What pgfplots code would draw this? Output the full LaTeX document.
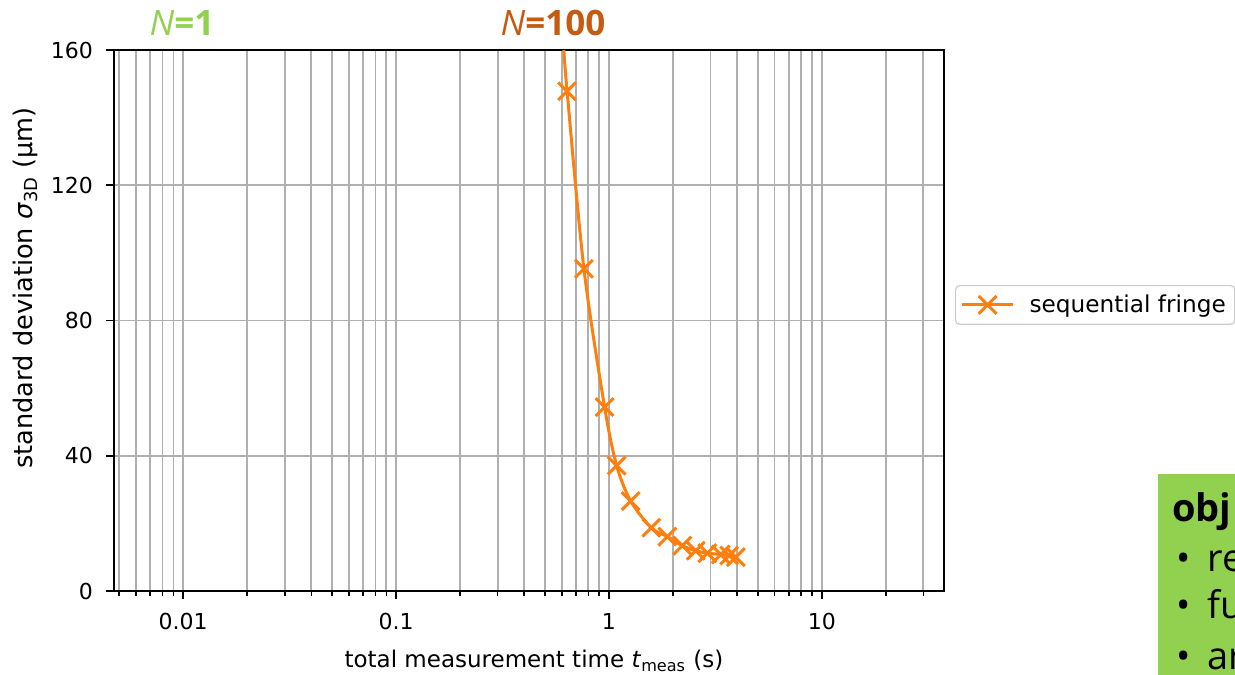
\documentclass[border=0pt]{standalone}
\usepackage{fontspec}
\setmainfont{DejaVu Sans}
\newfontfamily\slidefont{Open Sans}
\usepackage{pgfplots}
\pgfplotsset{compat=1.18}
\definecolor{seqorange}{HTML}{FF7F0E}
\definecolor{slidegreen}{HTML}{92D050}
\definecolor{slideorange}{HTML}{C55A11}
\definecolor{gridgray}{HTML}{B0B0B0}
\definecolor{legendframe}{HTML}{CCCCCC}

\begin{document}
\begin{tikzpicture}
\useasboundingbox (0pt,0pt) rectangle (617.5pt,337pt);
\clip (0pt,0pt) rectangle (617.5pt,337pt);
\begin{axis}[
  at={(57pt,41.5pt)}, anchor=south west,
  scale only axis, width=415pt, height=270.5pt,
  xmode=log, xmin=0.00473, xmax=37.5, ymin=0, ymax=160,
  axis line style={black, line width=1pt},
  tick align=outside, tick pos=left,
  major tick length=4pt, minor tick length=2.5pt,
  every tick/.style={black, line width=0.8pt},
  xtick={0.01,0.1,1,10}, xticklabels={0.01,0.1,1,10},
  minor xtick={0.005,0.006,0.007,0.008,0.009,0.02,0.03,0.04,0.05,0.06,0.07,0.08,0.09,
               0.2,0.3,0.4,0.5,0.6,0.7,0.8,0.9,2,3,4,5,6,7,8,9,20,30},
  ytick={0,40,80,120,160}, yticklabels={0,40,80,120,160},
  xmajorgrids, xminorgrids, ymajorgrids,
  major grid style={gridgray, line width=0.9pt},
  minor grid style={gridgray, line width=0.9pt},
  ticklabel style={font=\fontsize{11}{13}\selectfont},
  xticklabel style={yshift=-3.5pt},
  yticklabel style={xshift=-3pt},
  xlabel={total measurement time \textit{t}\textsubscript{meas} (s)},
  ylabel={standard deviation \textit{σ}\textsubscript{3D} (μm)},
  xlabel style={at={(axis description cs:0.506,-0.129)}, anchor=center,
    font=\fontsize{11.5}{14}\selectfont},
  ylabel style={at={(axis description cs:-0.107,0.56)}, anchor=center,
    font=\fontsize{12.8}{15}\selectfont},
  legend style={at={(rel axis cs:1.0133,0.5656)}, anchor=north west,
    draw=legendframe, rounded corners=2pt, line width=0.6pt,
    font=\fontsize{11.6}{13}\selectfont, inner sep=2.5pt},
  legend cell align=left,
  legend image code/.code={\draw[mark repeat=2,mark phase=2,#1]
    plot coordinates {(0pt,0pt) (12.75pt,0pt) (25.5pt,0pt)};
    \path (31pt,0pt);},
]
\addlegendimage{seqorange, line width=1.5pt, mark=x, mark size=6.3pt}
\addlegendentry{sequential fringe}

% fitted curve through the measurements
\addplot[seqorange, line width=1.5pt, smooth, forget plot] coordinates {
  (0.614,160) (0.636,147.8) (0.763,95.3) (0.954,54.4) (1.087,37.1)
  (1.265,26.6) (1.582,18.7) (1.881,16.1) (2.213,13.4) (2.558,11.9)
  (2.90,11.2) (3.35,10.8) (3.67,10.5) (3.95,10.0)};
% measured points
\addplot[seqorange, only marks, mark=x, mark size=6.3pt,
  mark options={line width=1.5pt}, forget plot] coordinates {
  (0.636,147.8) (0.763,95.3) (0.954,54.4) (1.087,37.1)
  (1.265,26.6) (1.582,18.7) (1.881,16.1) (2.213,13.4) (2.558,11.9)
  (2.90,11.2) (3.35,10.8) (3.67,10.5) (3.95,10.0)};
\end{axis}

% sample-count markers above the plot
\node[font=\slidefont\bfseries\fontsize{17.5}{20}\selectfont, text=slidegreen]
  at (91pt,325.5pt) {\textit{\mdseries N}=1};
\node[font=\slidefont\bfseries\fontsize{17.5}{20}\selectfont, text=slideorange]
  at (276.5pt,325.5pt) {\textit{\mdseries N}=100};

% objectives box
\fill[slidegreen] (579pt,-5pt) rectangle (625pt,100pt);
\node[anchor=base west, inner sep=0pt, font=\slidefont\bfseries\fontsize{19}{22}\selectfont]
  at (586pt,76pt) {obj};
\node[anchor=base west, inner sep=0pt, font=\slidefont\fontsize{19}{22}\selectfont]
  at (588pt,51pt) {•};
\node[anchor=base west, inner sep=0pt, font=\slidefont\fontsize{19}{22}\selectfont]
  at (603.5pt,51pt) {re};
\node[anchor=base west, inner sep=0pt, font=\slidefont\fontsize{19}{22}\selectfont]
  at (588pt,27.5pt) {•};
\node[anchor=base west, inner sep=0pt, font=\slidefont\fontsize{19}{22}\selectfont]
  at (603.5pt,27.5pt) {fu};
\node[anchor=base west, inner sep=0pt, font=\slidefont\fontsize{19}{22}\selectfont]
  at (588pt,2.5pt) {•};
\node[anchor=base west, inner sep=0pt, font=\slidefont\fontsize{19}{22}\selectfont]
  at (603.5pt,2.5pt) {ar};
\end{tikzpicture}
\end{document}
